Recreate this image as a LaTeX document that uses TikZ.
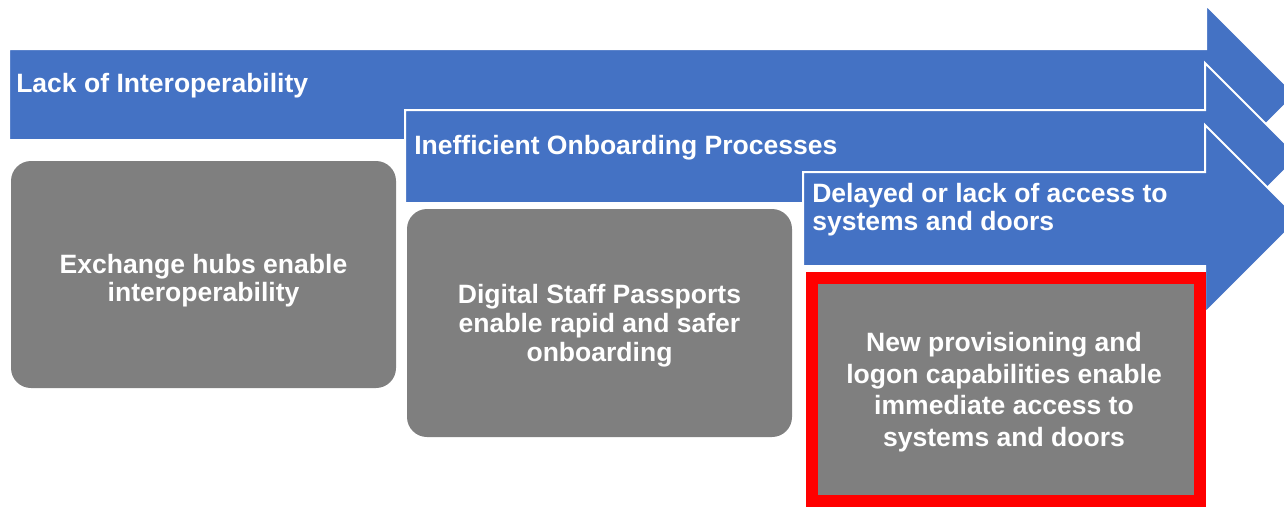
\documentclass[tikz,border=0pt]{standalone}
\usepackage{fontspec}
\setmainfont{Liberation Sans}
\definecolor{bandblue}{HTML}{4472C4}
\definecolor{cardgray}{HTML}{7F7F7F}
\definecolor{alertred}{HTML}{FF0000}
\newcommand{\labelfont}[1]{\bfseries\fontsize{19.9}{#1}\selectfont}
\begin{document}
\begin{tikzpicture}[x=0.75pt,y=-0.75pt,
  band/.style={fill=bandblue,draw=white,line width=1.5pt,line join=miter},
  bandtext/.style={text=white,anchor=base west,align=left,inner sep=0pt},
  card/.style={fill=cardgray,rounded corners=15pt},
  cardtext/.style={text=white,anchor=base,align=center,inner sep=0pt}]
\useasboundingbox (0,0) rectangle (1284,507);
\clip (0,0) rectangle (1284,507);

% first band: lack of interoperability (text placed by its last baseline)
\draw[band] (9,49) -- (1206,49) -- (1206,5) -- (1295.5,94.5) -- (1206,184) -- (1206,140) -- (9,140) -- cycle;
\node[bandtext,font=\labelfont{21}] (t1) at (16,92.5) {Lack of Interoperability};

% card under the first band
\fill[card] (11,161) rectangle (396,388);
\node[cardtext,font=\labelfont{21.2}] (c1) at (203.5,301.7) {Exchange hubs enable\\interoperability};

% second band: onboarding
\draw[band] (405,110) -- (1205,110) -- (1205,63) -- (1298.5,156.5) -- (1205,250) -- (1205,203) -- (405,203) -- cycle;
\node[bandtext,font=\labelfont{21}] (t2) at (414,154) {Inefficient Onboarding Processes};

% card under the second band
\fill[card] (407,209) rectangle (792,437);
\node[cardtext,font=\labelfont{21.75}] (c2) at (599.5,361.7) {Digital Staff Passports\\enable rapid and safer\\onboarding};

% third band: access
\draw[band] (803,172) -- (1205,172) -- (1205,125) -- (1299,219) -- (1205,313) -- (1205,266) -- (803,266) -- cycle;
\node[bandtext,font=\labelfont{20.8}] (t3) at (812,230) {Delayed or lack of access to\\systems and doors};

% highlighted card under the third band
\fill[cardgray] (812,278) rectangle (1200,501);
\draw[alertred,line width=9pt] (812,278) rectangle (1200,501);
\node[cardtext,font=\labelfont{23.55}] (c3) at (1004,446) {New provisioning and\\logon capabilities enable\\immediate access to\\systems and doors};
\end{tikzpicture}
\end{document}
